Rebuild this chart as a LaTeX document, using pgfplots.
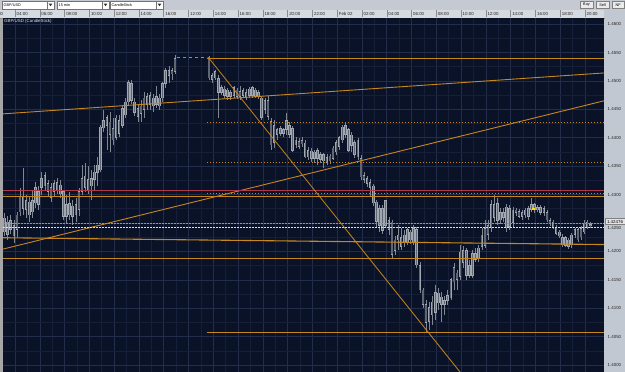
\documentclass[border=0pt]{standalone}
\usepackage{fontspec}
\setmainfont{Liberation Sans}
\usepackage{pgfplots}
\pgfplotsset{compat=1.18}
\usepackage{pgfplotstable}
\definecolor{bgc}{HTML}{0A1228}
\definecolor{gridmaj}{HTML}{222D49}
\definecolor{gridmin}{HTML}{161F37}
\definecolor{wickc}{HTML}{80878F}
\definecolor{bodyo}{HTML}{A2A8B2}
\definecolor{bodyi}{HTML}{5F6672}
\definecolor{orng}{RGB}{200,135,30}
\definecolor{redl}{RGB}{175,55,75}
\definecolor{tbar}{HTML}{C4C9D2}
\definecolor{tband}{HTML}{D5D9E0}
\definecolor{rband}{HTML}{C2C8D1}
\definecolor{dashb}{HTML}{8A96B0}

\pgfplotstableread{
x bt bb hi lo
4.5 1.4259 1.4234 1.4268 1.4227
7.6 1.4252 1.4229 1.4262 1.4220
10.7 1.4255 1.4238 1.4264 1.4231
13.8 1.4246 1.4227 1.4255 1.4215
16.9 1.4264 1.4238 1.4269 1.4225
20.0 1.4297 1.4269 1.4312 1.4262
23.1 1.4296 1.4276 1.4347 1.4264
26.2 1.4290 1.4273 1.4299 1.4259
29.3 1.4287 1.4264 1.4297 1.4252
32.4 1.4290 1.4269 1.4308 1.4259
35.5 1.4312 1.4285 1.4322 1.4276
38.6 1.4305 1.4282 1.4315 1.4273
41.7 1.4329 1.4312 1.4340 1.4299
44.8 1.4334 1.4315 1.4340 1.4308
47.9 1.4320 1.4306 1.4326 1.4297
51.0 1.4312 1.4294 1.4320 1.4287
54.1 1.4319 1.4305 1.4326 1.4297
57.2 1.4322 1.4308 1.4329 1.4301
60.3 1.4317 1.4301 1.4326 1.4294
63.4 1.4305 1.4261 1.4308 1.4255
66.5 1.4282 1.4261 1.4299 1.4250
69.6 1.4285 1.4264 1.4305 1.4255
72.7 1.4280 1.4261 1.4290 1.4246
75.8 1.4283 1.4264 1.4294 1.4252
78.9 1.4305 1.4273 1.4312 1.4262
82.0 1.4329 1.4305 1.4352 1.4299
85.1 1.4333 1.4312 1.4356 1.4305
88.2 1.4326 1.4308 1.4350 1.4301
91.3 1.4329 1.4315 1.4343 1.4290
94.4 1.4340 1.4326 1.4352 1.4308
97.5 1.4352 1.4338 1.4366 1.4315
100.6 1.4419 1.4343 1.4422 1.4340
103.7 1.4431 1.4417 1.4449 1.4410
106.8 1.4435 1.4421 1.4440 1.4378
109.9 1.4428 1.4405 1.4445 1.4375
113.0 1.4417 1.4396 1.4435 1.4387
116.1 1.4435 1.4400 1.4440 1.4396
119.2 1.4431 1.4408 1.4440 1.4401
122.3 1.4452 1.4422 1.4458 1.4417
125.4 1.4463 1.4440 1.4470 1.4435
128.5 1.4498 1.4463 1.4502 1.4458
131.6 1.4495 1.4466 1.4502 1.4459
134.7 1.4463 1.4445 1.4470 1.4438
137.8 1.4452 1.4438 1.4459 1.4428
140.9 1.4456 1.4442 1.4466 1.4428
144.0 1.4470 1.4449 1.4480 1.4435
147.1 1.4473 1.4459 1.4479 1.4449
150.2 1.4475 1.4458 1.4480 1.4449
153.3 1.4470 1.4456 1.4477 1.4445
156.4 1.4472 1.4459 1.4491 1.4452
159.5 1.4470 1.4456 1.4477 1.4449
162.6 1.4495 1.4470 1.4498 1.4463
165.7 1.4519 1.4495 1.4523 1.4488
168.8 1.4519 1.4509 1.4526 1.4496
171.9 1.4519 1.4512 1.4523 1.4502
175.0 1.4540 1.4516 1.4546 1.4512
209.0 1.4540 1.4505 1.4544 1.4502
212.1 1.4510 1.4503 1.4514 1.4496
215.2 1.4516 1.4505 1.4519 1.4502
218.3 1.4505 1.4480 1.4510 1.4435
221.4 1.4488 1.4480 1.4493 1.4475
224.5 1.4486 1.4475 1.4491 1.4470
227.6 1.4484 1.4473 1.4488 1.4466
230.7 1.4480 1.4472 1.4484 1.4466
233.8 1.4488 1.4475 1.4491 1.4470
236.9 1.4484 1.4473 1.4488 1.4468
240.0 1.4482 1.4472 1.4491 1.4466
243.1 1.4484 1.4475 1.4488 1.4470
246.2 1.4480 1.4470 1.4486 1.4466
249.3 1.4486 1.4475 1.4489 1.4470
252.4 1.4488 1.4475 1.4491 1.4470
255.5 1.4484 1.4473 1.4488 1.4470
258.6 1.4480 1.4473 1.4484 1.4468
261.7 1.4470 1.4435 1.4473 1.4431
264.8 1.4466 1.4449 1.4470 1.4442
267.9 1.4466 1.4438 1.4473 1.4431
271.0 1.4428 1.4387 1.4435 1.4378
274.1 1.4422 1.4391 1.4431 1.4382
277.2 1.4414 1.4405 1.4417 1.4396
280.3 1.4417 1.4408 1.4421 1.4403
283.4 1.4414 1.4407 1.4417 1.4401
286.5 1.4431 1.4414 1.4444 1.4405
289.6 1.4421 1.4405 1.4428 1.4400
292.7 1.4417 1.4378 1.4421 1.4375
295.8 1.4396 1.4387 1.4401 1.4382
298.9 1.4394 1.4385 1.4400 1.4380
302.0 1.4396 1.4389 1.4401 1.4384
305.1 1.4391 1.4366 1.4396 1.4364
308.2 1.4378 1.4366 1.4384 1.4361
311.3 1.4377 1.4364 1.4382 1.4357
314.4 1.4375 1.4364 1.4378 1.4356
317.5 1.4378 1.4364 1.4382 1.4352
320.6 1.4371 1.4361 1.4375 1.4356
323.7 1.4370 1.4359 1.4373 1.4347
326.8 1.4366 1.4357 1.4371 1.4352
329.9 1.4368 1.4359 1.4371 1.4354
333.0 1.4382 1.4364 1.4385 1.4361
336.1 1.4392 1.4375 1.4396 1.4370
339.2 1.4400 1.4385 1.4403 1.4378
342.3 1.4419 1.4396 1.4422 1.4391
345.4 1.4422 1.4405 1.4426 1.4400
348.5 1.4414 1.4378 1.4417 1.4375
351.6 1.4405 1.4387 1.4410 1.4375
354.7 1.4391 1.4370 1.4396 1.4364
357.8 1.4396 1.4366 1.4400 1.4361
360.9 1.4364 1.4331 1.4370 1.4326
364.0 1.4334 1.4326 1.4340 1.4320
367.1 1.4329 1.4320 1.4333 1.4313
370.2 1.4322 1.4312 1.4327 1.4297
373.3 1.4315 1.4285 1.4319 1.4280
376.4 1.4287 1.4252 1.4290 1.4241
379.5 1.4276 1.4245 1.4282 1.4234
382.6 1.4276 1.4236 1.4282 1.4231
385.7 1.4290 1.4246 1.4290 1.4241
388.8 1.4255 1.4238 1.4261 1.4229
391.9 1.4252 1.4194 1.4255 1.4188
395.0 1.4220 1.4202 1.4227 1.4194
398.1 1.4229 1.4220 1.4246 1.4202
401.2 1.4225 1.4208 1.4241 1.4202
404.3 1.4229 1.4215 1.4238 1.4208
407.4 1.4238 1.4216 1.4241 1.4211
410.5 1.4234 1.4220 1.4238 1.4213
413.6 1.4241 1.4215 1.4246 1.4211
416.7 1.4238 1.4176 1.4243 1.4171
419.8 1.4176 1.4132 1.4181 1.4127
422.9 1.4132 1.4106 1.4136 1.4100
426.0 1.4106 1.4074 1.4114 1.4056
429.1 1.4102 1.4076 1.4111 1.4062
432.2 1.4111 1.4088 1.4121 1.4070
435.3 1.4127 1.4092 1.4141 1.4079
438.4 1.4127 1.4109 1.4136 1.4097
441.5 1.4120 1.4106 1.4128 1.4076
444.6 1.4114 1.4106 1.4121 1.4088
447.7 1.4123 1.4114 1.4132 1.4106
450.8 1.4150 1.4118 1.4153 1.4114
453.9 1.4172 1.4146 1.4180 1.4132
457.0 1.4162 1.4150 1.4167 1.4132
460.1 1.4199 1.4155 1.4211 1.4150
463.2 1.4202 1.4180 1.4209 1.4171
466.3 1.4202 1.4158 1.4206 1.4150
469.4 1.4176 1.4158 1.4185 1.4153
472.5 1.4197 1.4158 1.4202 1.4153
475.6 1.4197 1.4185 1.4206 1.4181
478.7 1.4206 1.4188 1.4211 1.4181
481.8 1.4229 1.4208 1.4241 1.4202
484.9 1.4241 1.4211 1.4255 1.4206
488.0 1.4246 1.4229 1.4255 1.4220
491.1 1.4282 1.4241 1.4290 1.4234
494.2 1.4282 1.4259 1.4299 1.4252
497.3 1.4285 1.4255 1.4294 1.4246
500.4 1.4269 1.4255 1.4276 1.4248
503.5 1.4269 1.4259 1.4276 1.4252
506.6 1.4278 1.4241 1.4283 1.4234
509.7 1.4276 1.4243 1.4282 1.4238
512.8 1.4273 1.4250 1.4278 1.4241
515.9 1.4273 1.4268 1.4276 1.4262
519.0 1.4271 1.4262 1.4275 1.4259
522.1 1.4269 1.4261 1.4273 1.4255
525.2 1.4273 1.4264 1.4276 1.4259
528.3 1.4276 1.4261 1.4280 1.4255
531.4 1.4282 1.4273 1.4294 1.4269
534.5 1.4282 1.4273 1.4285 1.4268
537.6 1.4278 1.4273 1.4282 1.4269
540.7 1.4278 1.4268 1.4282 1.4264
543.8 1.4276 1.4268 1.4280 1.4262
546.9 1.4268 1.4255 1.4273 1.4252
550.0 1.4255 1.4250 1.4259 1.4245
553.1 1.4252 1.4243 1.4255 1.4239
556.2 1.4243 1.4232 1.4246 1.4229
559.3 1.4234 1.4227 1.4238 1.4224
562.4 1.4225 1.4211 1.4231 1.4208
565.5 1.4224 1.4211 1.4227 1.4208
568.6 1.4220 1.4209 1.4224 1.4204
571.7 1.4229 1.4211 1.4232 1.4206
574.8 1.4238 1.4229 1.4241 1.4224
577.9 1.4238 1.4220 1.4241 1.4216
581.0 1.4241 1.4225 1.4245 1.4220
584.1 1.4250 1.4234 1.4255 1.4231
587.2 1.4252 1.4243 1.4255 1.4239
590.3 1.4248 1.4245 1.4252 1.4241
}\candles

\begin{document}
\begin{tikzpicture}[x=1pt,y=1pt,font=\fontsize{4.4}{5}\selectfont]
\useasboundingbox (0,0) rectangle (625,372);
% toolbar and bands
\fill[tbar] (0,362) rectangle (625,372);
\fill[tband] (0,354) rectangle (605,362);
\fill[rband] (604,0) rectangle (625,362);
\fill[black!35] (0,0) rectangle (3,354);
\draw[black!45,line width=0.4pt] (0,354) -- (605,354);
\foreach \t in {15,39.78,64.56,89.34,114.12,138.9,163.68,188.46,213.24,238.02,262.8,287.58,312.36,337.14,361.92,386.7,411.48,436.26,461.04,485.82,510.6,535.38,560.16,584.94}
  \draw[black!45,line width=0.4pt] (\t,354.5) -- (\t,361.5);
\node[anchor=west,inner sep=0pt] at (0.3,357.8) {0};
% dropdowns
\foreach \a/\b/\t in {2/54/{GBP/USD},57/109/{15 min},110/163/{CandleStick}}{
  \fill[white] (\a,363.3) rectangle (\b,370.7);
  \draw[black!55,line width=0.3pt] (\a,363.3) rectangle (\b,370.7);
  \draw[black!55,line width=0.3pt] (\b-7,363.3) -- (\b-7,370.7);
  \fill[black!80] (\b-5.3,368.3) -- (\b-1.7,368.3) -- (\b-3.5,365.8) -- cycle;
  \node[anchor=west,inner sep=0pt,font=\fontsize{3.8}{4}\selectfont] at (\a+1.5,367) {\t};
}
\foreach \a/\b/\t in {580/593/Buy,596/609/Sell,612/624.5/NF}{
  \fill[white!92!black] (\a,363.5) rectangle (\b,370.5);
  \draw[black!50,line width=0.3pt] (\a,363.5) rectangle (\b,370.5);
  \node[inner sep=0pt,font=\fontsize{3.8}{4}\selectfont] at ({(\a+\b)/2},367) {\t};
}
\begin{axis}[
  at={(3pt,0pt)}, anchor=south west, scale only axis,
  width=601pt, height=354pt,
  xmin=3, xmax=604, ymin=1.398768, ymax=1.461072,
  axis background/.style={fill=bgc},
  axis line style={draw=none},
  tick style={draw=none},
  xtick={15,39.78,64.56,89.34,114.12,138.9,163.68,188.46,213.24,238.02,262.8,287.58,312.36,337.14,361.92,386.7,411.48,436.26,461.04,485.82,510.6,535.38,560.16,584.94},
  xticklabels={04:00,06:00,08:00,10:00,12:00,14:00,16:00,12:00,14:00,16:00,18:00,20:00,22:00,Feb 02,02:00,04:00,06:00,08:00,10:00,12:00,14:00,16:00,18:00,20:00},
  xticklabel pos=upper,
  ytick={1.400,1.405,1.410,1.415,1.420,1.425,1.430,1.435,1.440,1.445,1.450,1.455,1.460},
  yticklabels={1.4000,1.4050,1.4100,1.4150,1.4200,,1.4300,1.4350,1.4400,1.4450,1.4500,1.4550,1.4600},
  yticklabel pos=right,
  minor x tick num=1, minor y tick num=1,
  grid=both,
  major grid style={gridmaj, line width=0.5pt},
  minor grid style={gridmin, line width=0.5pt},
  /pgf/number format/assume math mode=true,
  tick label style={font=\fontsize{4.4}{5}\selectfont, text=black!85},
  xticklabel style={anchor=south west, inner sep=0pt, xshift=1.5pt, yshift=2pt},
  yticklabel style={anchor=west, inner sep=0pt, xshift=3.5pt},
]
% candles: wicks
\addplot[draw=none, forget plot, error bars/.cd, y dir=both, y explicit, error mark=none,
  error bar style={draw=wickc, line width=0.6pt, solid}]
  table[x=x, y expr=(\thisrow{hi}+\thisrow{lo})/2, y error expr=(\thisrow{hi}-\thisrow{lo})/2]{\candles};
% bodies outer
\addplot[draw=none, forget plot, error bars/.cd, y dir=both, y explicit, error mark=none,
  error bar style={draw=bodyo, line width=2.5pt, solid}]
  table[x=x, y expr=(\thisrow{bt}+\thisrow{bb})/2, y error expr=(\thisrow{bt}-\thisrow{bb})/2+0.00006]{\candles};
% bodies inner
\addplot[draw=none, forget plot, error bars/.cd, y dir=both, y explicit, error mark=none,
  error bar style={draw=bodyi, line width=1.2pt, solid}]
  table[x=x, y expr=(\thisrow{bt}+\thisrow{bb})/2, y error expr=(\thisrow{bt}-\thisrow{bb})/2-0.00008]{\candles};
\addplot[only marks, mark=square*, mark size=0.9pt, color=yellow!85!orange] coordinates {(533,1.4275)};
% drawn objects
\addplot[draw=black!45, dashed, line width=0.6pt] coordinates {(177,1.4542) (207,1.4542)};
\addplot[draw=orng, line width=1pt] coordinates {(207,1.45395) (604,1.45395)};
\addplot[draw=orng, line width=0.9pt] coordinates {(3,1.4442) (604,1.4514)};
\addplot[draw=orng, line width=0.9pt] coordinates {(3,1.4204) (604,1.4465)};
\addplot[draw=orng, line width=1pt, dash pattern=on 1pt off 2pt] coordinates {(207,1.4427) (604,1.4427)};
\addplot[draw=orng, line width=1pt, dash pattern=on 1pt off 2pt] coordinates {(207,1.4357) (604,1.4357)};
\addplot[draw=orng, line width=1pt, dash pattern=on 1pt off 2pt] coordinates {(207,1.4301) (604,1.4301)};
\addplot[draw=redl, line width=1pt] coordinates {(3,1.43075) (604,1.43075)};
\addplot[draw=orng, line width=1pt] coordinates {(3,1.4297) (604,1.4297)};
\addplot[draw=dashb, line width=0.9pt, dash pattern=on 2pt off 1pt] coordinates {(3,1.4249) (604,1.4249)};
\addplot[draw=white!88!black, line width=0.7pt, dash pattern=on 2pt off 1pt] coordinates {(3,1.4243) (604,1.4243)};
\addplot[draw=orng, line width=1.1pt] coordinates {(3,1.4224) (604,1.4212)};
\addplot[draw=orng, line width=1pt] coordinates {(3,1.4187) (604,1.4187)};
\addplot[draw=orng, line width=1pt] coordinates {(207,1.4058) (604,1.4058)};
\addplot[draw=orng, line width=0.8pt] coordinates {(208,1.4542) (460,1.398768)};
\end{axis}
\node[anchor=west,inner sep=0pt,text=black!85] at (607.5,143.8) {1.4250};
\node[anchor=west,inner sep=0pt,text=white!90!black] at (4,350.5) {GBP/USD (CandleStick)};
\fill[white!90!black] (605,147.5) rectangle (625,153.5);
\draw[black!50,line width=0.3pt] (605,147.5) rectangle (625,153.5);
\node[inner sep=0pt] at (615,150.5) {1.42476};
\end{tikzpicture}
\end{document}
